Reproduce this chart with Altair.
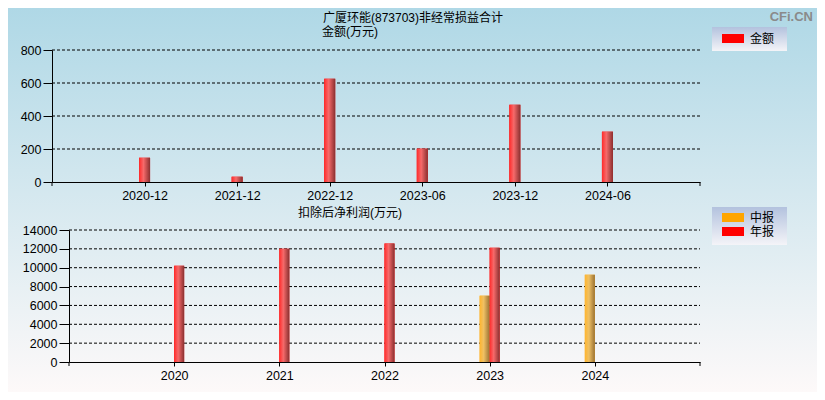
import altair as alt
import pandas as pd

# ---- data ----
top_periods = ["2020-12", "2021-12", "2022-12", "2023-06", "2023-12", "2024-06"]
top_values = [147, 32, 626, 202, 468, 305]
top_ticks = [0, 200, 400, 600, 800]

years = ["2020", "2021", "2022", "2023", "2024"]
annual_years = ["2020", "2021", "2022", "2023"]
annual_values = [10210, 12020, 12580, 12120]
interim_years = ["2023", "2024"]
interim_values = [7030, 9260]
bottom_ticks = [0, 2000, 4000, 6000, 8000, 10000, 12000, 14000]

title_top = "广厦环能(873703)非经常损益合计"
unit_top = "金额(万元)"
title_bottom = "扣除后净利润(万元)"
watermark = "CFi.CN"

FONT = "Liberation Sans, Noto Sans CJK SC"
W, H = 809, 384
one = pd.DataFrame({"d": [0]})


def hgrad(stops):
    return alt.LinearGradient(gradient="linear", x1=0, x2=1, y1=0, y2=0,
                              stops=[alt.GradientStop(offset=o, color=c) for o, c in stops])


def vgrad(stops):
    return alt.LinearGradient(gradient="linear", x1=0, x2=0, y1=0, y2=1,
                              stops=[alt.GradientStop(offset=o, color=c) for o, c in stops])


RED = hgrad([(0, "#ff2b2b"), (0.4, "#f66a6a"), (1, "#8a3030")])
ORANGE = hgrad([(0, "#ffb52e"), (0.4, "#efc064"), (1, "#9a7234")])
LEG_BG = vgrad([(0, "#b3c2de"), (1, "#f4f4f8")])
PAGE_BG = vgrad([(0, "#afd8e6"), (1, "#fdf9f9")])

legend_common = dict(title=None, orient="none", symbolType="M-2.2,-0.9H2.2V0.9H-2.2Z",
                     symbolSize=100, symbolStrokeWidth=0, labelOffset=11, labelFontSize=12,
                     labelFont=FONT, labelColor="black", padding=0, zindex=1,
                     symbolOpacity=1, rowPadding=2)

axis_common = dict(title=None, labelFont=FONT, labelFontSize=12.5, labelColor="black",
                   domainColor="black", tickColor="black", domainWidth=1, tickWidth=1,
                   grid=False, zindex=1)

# ---- top panel ----
df_top = pd.DataFrame({"period": top_periods, "value": top_values, "series": ["金额"] * len(top_periods)})
df_top_grid = pd.DataFrame({"value": top_ticks[1:]})

x_top = alt.X("period:N", sort=top_periods,
              scale=alt.Scale(type="point", domain=top_periods, range=[44, 692], padding=1),
              axis=alt.Axis(orient="bottom", offset=-210, tickSize=4, labelPadding=3,
                            labelAngle=0, **axis_common))
y_top = alt.Y("value:Q", scale=alt.Scale(domain=[0, 800], range=[174, 42], nice=False, zero=True),
              axis=alt.Axis(orient="left", offset=-44, values=top_ticks, tickSize=9, format="d",
                            labelPadding=2, **axis_common))

top_grid = alt.Chart(df_top_grid).mark_rule(color="black", strokeDash=[3, 2], strokeWidth=1).encode(
    y=y_top, x=alt.value(44), x2=alt.value(692))
top_base = alt.Chart(df_top).mark_bar(size=11).encode(
    x=x_top, y=y_top,
    color=alt.Color("series:N", scale=alt.Scale(domain=["金额"], range=["#ff0000"]),
                    legend=alt.Legend(legendX=719, legendY=24.5, **legend_common)))
top_bars = alt.Chart(df_top).mark_bar(size=11, color=RED).encode(x=x_top, y=y_top)
top_end_l = alt.Chart(one).mark_rule(color="black").encode(x=alt.value(44), y=alt.value(174), y2=alt.value(178))
top_end_r = alt.Chart(one).mark_rule(color="black").encode(x=alt.value(692), y=alt.value(174), y2=alt.value(178))
top_panel = alt.layer(top_grid, top_base, top_bars, top_end_l, top_end_r)

# ---- bottom panel ----
df_ann = pd.DataFrame({"year": annual_years, "value": annual_values, "series": ["年报"] * len(annual_years)})
df_int = pd.DataFrame({"year": interim_years, "value": interim_values, "series": ["中报"] * len(interim_years)})
df_bot_grid = pd.DataFrame({"value": bottom_ticks[1:]})

x_bot = alt.X("year:N", sort=years,
              scale=alt.Scale(type="point", domain=years, range=[61, 692], padding=1),
              axis=alt.Axis(orient="bottom", offset=-30, tickSize=4, labelPadding=3,
                            labelAngle=0, **axis_common))
y_bot = alt.Y("value:Q", scale=alt.Scale(domain=[0, 14000], range=[354, 222], nice=False, zero=True),
              axis=alt.Axis(orient="left", offset=-61, values=bottom_ticks, tickSize=10, format="d",
                            labelPadding=2, **axis_common))
bot_color = alt.Color("series:N", scale=alt.Scale(domain=["中报", "年报"], range=["#ffa500", "#ff0000"]),
                      legend=alt.Legend(legendX=719, legendY=203.5, **legend_common))

bot_grid = alt.Chart(df_bot_grid).mark_rule(color="black", strokeDash=[3, 2], strokeWidth=1).encode(
    y=y_bot, x=alt.value(61), x2=alt.value(692))
int_base = alt.Chart(df_int).mark_bar(size=10, xOffset=-5).encode(x=x_bot, y=y_bot, color=bot_color)
ann_base = alt.Chart(df_ann).mark_bar(size=10, xOffset=5).encode(x=x_bot, y=y_bot, color=bot_color)
int_bars = alt.Chart(df_int).mark_bar(size=10, xOffset=-5, color=ORANGE).encode(x=x_bot, y=y_bot)
ann_bars = alt.Chart(df_ann).mark_bar(size=10, xOffset=5, color=RED).encode(x=x_bot, y=y_bot)
bot_end_l = alt.Chart(one).mark_rule(color="black").encode(x=alt.value(61), y=alt.value(354), y2=alt.value(358))
bot_end_r = alt.Chart(one).mark_rule(color="black").encode(x=alt.value(692), y=alt.value(354), y2=alt.value(358))
bottom_panel = alt.layer(bot_grid, int_base, ann_base, int_bars, ann_bars, bot_end_l, bot_end_r)

# ---- decorations ----
bg = alt.Chart(one).mark_rect(fill=PAGE_BG).encode(
    x=alt.value(0), x2=alt.value(W), y=alt.value(0), y2=alt.value(H))
leg_bg_top = alt.Chart(one).mark_rect(fill=LEG_BG).encode(
    x=alt.value(704), x2=alt.value(779), y=alt.value(19), y2=alt.value(43))
leg_bg_bot = alt.Chart(one).mark_rect(fill=LEG_BG).encode(
    x=alt.value(704), x2=alt.value(779), y=alt.value(199), y2=alt.value(237))


def label(txt, x, y, size=12, color="black", weight="normal", align="left"):
    return alt.Chart(one).mark_text(align=align, baseline="middle", font=FONT, fontSize=size,
                                    color=color, fontWeight=weight).encode(
        x=alt.value(x), y=alt.value(y), text=alt.value(txt))


t1 = label(title_top, 315, 10)
t2 = label(unit_top, 314, 24)
t3 = label(title_bottom, 290, 205)
wm = label(watermark, 805, 9, size=13, color="#8a8a8a", weight="bold", align="right")

chart = alt.layer(
    bg, leg_bg_top, leg_bg_bot, top_panel, bottom_panel, t1, t2, t3, wm
).resolve_scale(
    x="independent", y="independent", color="independent"
).properties(
    width=W, height=H, autosize=alt.AutoSizeParams(type="none"), padding=0, background="white"
).configure_view(
    stroke=None
)

chart.save("out.html", embed_options={"renderer": "svg", "actions": False})
